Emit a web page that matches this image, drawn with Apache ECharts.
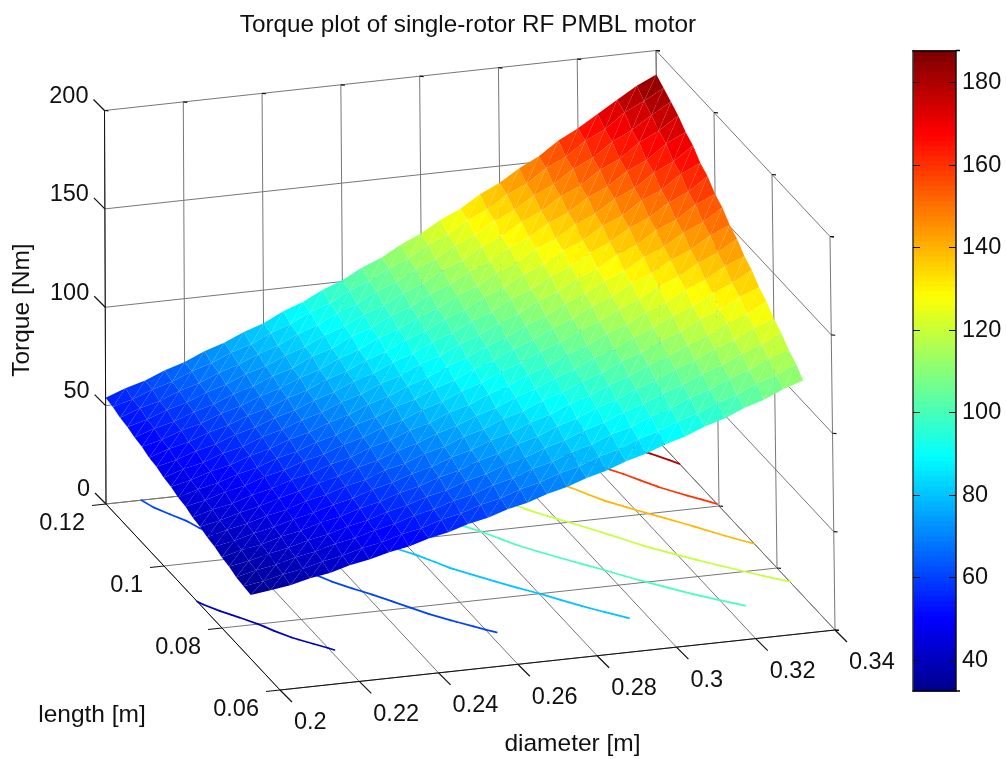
<!DOCTYPE html>
<html><head><meta charset="utf-8">
<script src="https://cdn.jsdelivr.net/npm/echarts@6/dist/echarts.min.js"></script>
<style>html,body{margin:0;padding:0;background:#fff}#c{width:1006px;height:759px}</style>
</head><body><div id="c"></div>
<script>
const diameters=[0.2,0.205,0.21,0.215,0.22,0.225,0.23,0.235,0.24,0.245,0.25,0.255,0.26,0.265,0.27,0.275,0.28,0.285,0.29,0.295,0.3,0.305,0.31,0.315,0.32,0.325,0.33,0.335,0.34];
const lengths=[0.07,0.0725,0.075,0.0775,0.08,0.0825,0.085,0.0875,0.09,0.0925,0.095,0.0975,0.1,0.1025,0.105,0.1075,0.11,0.1125,0.115,0.1175,0.12];
const torque=[
[32.5,33.9,35.3,37.8,39.4,42.2,44.0,46.6,48.5,51.4,53.5,56.6,58.7,62.0,64.2,67.5,70.0,73.5,76.1,79.8,82.5,86.3,89.1,93.1,96.1,100.3,103.4,107.8,111.0],
[33.0,34.5,37.0,38.7,41.3,43.2,45.9,47.8,50.7,52.7,55.9,58.0,61.4,63.6,67.1,69.4,73.1,75.5,79.4,82.0,86.1,88.8,93.0,95.8,100.2,103.2,107.9,110.9,115.8],
[33.7,36.2,37.8,40.6,42.4,45.2,47.1,49.9,52.0,55.2,57.3,60.6,62.8,66.4,68.7,72.5,74.9,78.8,81.5,85.6,88.3,92.5,95.5,99.9,102.9,107.6,110.7,115.6,118.9],
[35.2,36.9,39.5,41.4,44.2,46.2,49.0,51.1,54.2,56.5,59.8,62.0,65.5,68.0,71.6,74.2,78.0,80.8,84.8,87.7,91.9,94.9,99.3,102.5,107.0,110.4,115.1,118.7,123.6],
[35.9,38.6,40.3,43.3,45.1,48.2,50.1,53.3,55.4,58.9,61.1,64.7,67.0,70.9,73.3,77.3,79.9,84.1,86.9,91.3,94.2,98.7,101.8,106.5,109.8,114.8,118.1,123.3,126.8],
[37.5,39.3,42.1,44.1,47.0,49.2,52.2,54.4,57.7,60.2,63.6,66.1,69.8,72.4,76.2,79.0,83.1,86.0,90.3,93.4,97.8,101.1,105.7,109.1,113.9,117.5,122.6,126.3,131.6],
[38.2,41.0,42.9,45.9,47.9,51.2,53.3,56.6,58.8,62.6,64.9,68.8,71.2,75.3,77.9,82.1,85.0,89.3,92.4,96.9,100.1,104.8,108.2,113.1,116.6,121.9,125.5,131.0,134.8],
[39.7,41.7,44.6,46.8,49.8,52.2,55.4,57.7,61.2,63.7,67.4,70.1,74.0,76.8,80.8,83.8,88.1,91.2,95.7,99.1,103.7,107.2,112.0,115.7,120.9,124.6,130.0,134.0,139.6],
[40.4,43.4,45.4,48.6,50.8,54.2,56.4,59.9,62.3,66.2,68.8,72.8,75.4,79.7,82.4,86.9,90.0,94.6,97.8,102.6,106.0,111.0,114.5,119.8,123.5,129.0,132.9,138.7,142.7],
[42.0,44.1,47.2,49.4,52.8,55.2,58.6,61.0,64.7,67.4,71.3,74.1,78.2,81.2,85.5,88.6,93.2,96.5,101.3,104.8,109.7,113.3,118.5,122.3,127.8,131.7,137.4,141.7,147.6],
[42.7,45.8,47.9,51.3,53.6,57.2,59.6,63.2,65.8,69.9,72.6,76.8,79.6,84.1,87.0,91.7,95.0,99.8,103.2,108.3,111.9,117.2,120.9,126.5,130.4,136.2,140.3,146.4,150.7],
[44.2,46.5,49.8,52.0,55.6,58.1,61.8,64.3,68.1,71.0,75.2,78.1,82.4,85.6,90.1,93.4,98.2,101.6,106.7,110.3,115.7,119.4,124.9,128.9,134.7,138.8,144.9,149.2,155.6],
[45.0,48.2,50.4,54.0,56.4,60.2,62.8,66.6,69.3,73.6,76.4,80.8,83.8,88.5,91.6,96.5,99.9,105.1,108.7,114.1,117.7,123.3,127.2,133.1,137.2,143.4,147.6,154.2,158.6],
[46.5,48.9,52.3,54.7,58.5,61.1,64.9,67.6,71.6,74.7,79.1,82.1,86.7,89.9,94.8,98.1,103.3,106.8,112.3,115.9,121.7,125.4,131.4,135.5,141.7,145.9,152.4,156.9,163.6],
[47.2,50.6,53.0,56.7,59.3,63.2,65.9,69.9,72.7,77.3,80.2,84.9,88.0,93.0,96.1,101.4,104.8,110.4,114.0,119.8,123.6,129.6,133.6,139.9,144.0,150.6,154.9,161.9,166.4],
[48.8,51.3,54.9,57.4,61.3,64.1,68.1,70.9,75.1,78.3,82.9,86.1,91.0,94.3,99.4,102.9,108.4,112.0,117.8,121.6,127.6,131.6,137.9,142.1,148.6,153.0,159.8,164.5,171.4],
[49.5,53.0,55.5,59.3,62.1,66.2,69.1,73.2,76.2,81.0,84.0,89.0,92.3,97.4,100.8,106.2,110.0,115.6,119.5,125.4,129.6,135.7,139.9,146.5,150.8,157.7,162.3,169.4,174.3],
[51.0,53.7,57.4,60.1,64.1,67.1,71.3,74.2,78.6,81.9,86.7,90.1,95.2,98.7,103.9,107.7,113.4,117.2,123.2,127.3,133.5,137.7,144.2,148.7,155.5,160.1,167.2,172.1,178.6],
[51.7,55.4,58.1,62.0,65.0,69.2,72.2,76.5,79.7,84.5,87.9,93.0,96.5,101.8,105.4,111.0,115.0,120.9,125.0,131.1,135.5,141.8,146.3,153.1,157.7,164.8,169.7,176.0,181.8],
[53.3,56.1,59.9,62.8,67.0,70.1,74.4,77.5,82.1,85.6,90.6,94.1,99.4,103.1,108.6,112.5,118.4,122.5,128.7,133.0,139.4,143.8,150.6,155.4,162.4,167.2,174.6,179.4,184.9],
[54.0,57.8,60.6,64.7,67.8,72.2,75.4,79.8,83.2,88.2,91.8,96.9,100.7,106.1,110.0,115.7,120.0,126.0,130.5,136.7,141.5,147.8,152.8,159.7,164.8,171.0,177.1,183.2,187.8]
];
const contourLevels=[40,60,80,100,120,140,160,180];
const diameterTicks=[0.2,0.22,0.24,0.26,0.28,0.3,0.32,0.34];
const diameterLabels=['0.2','0.22','0.24','0.26','0.28','0.3','0.32','0.34'];
const lengthTicks=[0.06,0.08,0.1,0.12];
const lengthLabels=['0.06','0.08','0.1','0.12'];
const torqueTicks=[0,50,100,150,200];
const colorbarTicks=[40,60,80,100,120,140,160,180];
const colorMin=32.5,colorMax=187.8,LEVELS=128;

/* orthographic view of the 3-D box */
const D0=0.2,DR=0.14,L0=0.06,LR=0.06,ZR=200;
function project(d,l,z){
  const u=(d-D0)/DR,v=(l-L0)/LR,t=z/ZR;
  return [280+555*u-174*v-t*(1.5+3.5*u), 690-60*u-186*v-393.5*t];
}
function clamp01(x){return Math.max(0,Math.min(1,x));}
function jetAt(f){
  const t=(clamp01(f)*63+1)/64;
  const r=clamp01(Math.min(4*t-1.5,-4*t+4.5)),g=clamp01(Math.min(4*t-0.5,-4*t+3.5)),b=clamp01(Math.min(4*t+0.5,-4*t+2.5));
  return 'rgb('+Math.round(r*255)+','+Math.round(g*255)+','+Math.round(b*255)+')';
}
function jet(v){return jetAt((v-colorMin)/(colorMax-colorMin));}
const FAMILY='"Liberation Sans", Arial, sans-serif';
const DMAX=0.34,LMAX=0.12,GRID='#777',DARK='#111',FONT='23.5px '+FAMILY;
/* frame segments: d1,l1,z1,d2,l2,z2,colour */
const frame=[];
diameterTicks.forEach(d=>{
  frame.push([d,L0,0,d,LMAX,0,GRID]);
  frame.push([d,LMAX,0,d,LMAX,ZR,GRID]);
});
lengthTicks.forEach(l=>{
  frame.push([D0,l,0,DMAX,l,0,GRID]);
  frame.push([DMAX,l,0,DMAX,l,ZR,GRID]);
});
torqueTicks.forEach(z=>{
  frame.push([D0,LMAX,z,DMAX,LMAX,z,GRID]);
  frame.push([DMAX,LMAX,z,DMAX,L0,z,GRID]);
});
frame.push([D0,LMAX,0,D0,LMAX,ZR,DARK]);
frame.push([D0,L0,0,D0,LMAX,0,DARK]);
frame.push([D0,L0,0,DMAX,L0,0,DARK]);

const cells=[];
for(let i=0;i<lengths.length-1;i++)for(let k=0;k<diameters.length-1;k++)cells.push([i,k]);

function crossings(lv,i,k){
  const corners=[[k,i],[k+1,i],[k+1,i+1],[k,i+1]],pts=[];
  for(let e=0;e<4;e++){
    const a=corners[e],b=corners[(e+1)%4];
    const va=torque[a[1]][a[0]],vb=torque[b[1]][b[0]];
    if((va<lv)!==(vb<lv)){
      const f=(lv-va)/(vb-va);
      pts.push([diameters[a[0]]+f*(diameters[b[0]]-diameters[a[0]]),lengths[a[1]]+f*(lengths[b[1]]-lengths[a[1]])]);
    }
  }
  return pts;
}
const chart=echarts.init(document.getElementById('c'),null,{renderer:'canvas'});
const ticks=[];
diameterTicks.forEach(d=>ticks.push({p:[d,L0,0],dx:12,dy:12}));
lengthTicks.forEach(l=>ticks.push({p:[D0,l,0],dx:-14,dy:1.5}));
torqueTicks.forEach(z=>ticks.push({p:[D0,LMAX,z],dx:-11,dy:-11}));
diameterTicks.forEach(d=>{ticks.push({p:[d,LMAX,ZR],dx:4,dy:0.4});});
lengthTicks.forEach(l=>{ticks.push({p:[DMAX,l,ZR],dx:4,dy:0.4});ticks.push({p:[DMAX,l,0],dx:4,dy:0.4});});
torqueTicks.forEach(z=>{ticks.push({p:[DMAX,L0,z],dx:4,dy:0.4});});

const labels=[];
diameterTicks.forEach((d,n)=>{const p=project(d,L0,0);labels.push({t:diameterLabels[n],x:p[0]+14,y:p[1]+33,a:'left'});});
lengthTicks.forEach((l,n)=>{const p=project(D0,l,0);labels.push({t:lengthLabels[n],x:p[0]-21,y:p[1]+19.5,a:'right'});});
torqueTicks.forEach(z=>{const p=project(D0,LMAX,z);labels.push({t:String(z),x:p[0]-16,y:p[1]-14,a:'right'});});

chart.setOption({
  animation:false,
  backgroundColor:'#fff',
  title:{text:'Torque plot of single-rotor RF PMBL motor',left:463,top:8,textAlign:'center',
    textStyle:{fontFamily:FAMILY,fontWeight:'normal',fontSize:24.3,color:'#111'}},
  grid:[
    {left:0,top:0,width:1006,height:759,show:false},
    {left:913,top:50.5,width:43,height:640.5,show:false}
  ],
  xAxis:[
    {type:'value',gridIndex:0,min:0,max:1006,show:false},
    {type:'value',gridIndex:1,min:0,max:1,position:'bottom',z:10,axisLine:{show:true,onZero:false,lineStyle:{color:'#000',width:1.5}},axisTick:{show:false},axisLabel:{show:false},splitLine:{show:false}},
    {type:'value',gridIndex:1,min:0,max:1,position:'top',z:10,axisLine:{show:true,onZero:false,lineStyle:{color:'#000',width:1.5}},axisTick:{show:false},axisLabel:{show:false},splitLine:{show:false}}
  ],
  yAxis:[
    {type:'value',gridIndex:0,min:0,max:759,inverse:true,show:false},
    {type:'value',gridIndex:1,min:colorMin,max:colorMax,position:'right',z:10,
      axisLine:{show:true,onZero:false,lineStyle:{color:'#111',width:1.5}},
      axisTick:{show:true,inside:true,length:7,customValues:colorbarTicks,lineStyle:{color:'#111',width:1}},
      axisLabel:{show:true,customValues:colorbarTicks,margin:6,fontSize:23.5,color:'#111',fontFamily:FAMILY},
      splitLine:{show:false}},
    {type:'value',gridIndex:1,min:colorMin,max:colorMax,position:'left',z:10,
      axisLine:{show:true,onZero:false,lineStyle:{color:'#333',width:1.5}},
      axisTick:{show:true,inside:true,length:7,customValues:colorbarTicks,lineStyle:{color:'#111',width:1}},
      axisLabel:{show:false},splitLine:{show:false}}
  ],
  series:[
    {type:'custom',name:'frame',xAxisIndex:0,yAxisIndex:0,silent:true,z:1,
      data:frame.map((f,i)=>[i,0]),
      renderItem(params,api){
        const f=frame[params.dataIndex];
        const a=api.coord(project(f[0],f[1],f[2])),b=api.coord(project(f[3],f[4],f[5]));
        return {type:'line',shape:{x1:a[0],y1:a[1],x2:b[0],y2:b[1]},style:{stroke:f[6],lineWidth:1,fill:null}};
      }},
    {type:'custom',name:'ticks',xAxisIndex:0,yAxisIndex:0,silent:true,z:2,
      data:ticks.map((f,i)=>[i,0]),
      renderItem(params,api){
        const f=ticks[params.dataIndex];
        const a=api.coord(project(f.p[0],f.p[1],f.p[2]));
        return {type:'line',shape:{x1:a[0],y1:a[1],x2:a[0]+f.dx,y2:a[1]+f.dy},style:{stroke:'#111',lineWidth:1.2,fill:null}};
      }},
    {type:'custom',name:'contours',xAxisIndex:0,yAxisIndex:0,silent:true,z:3,
      data:contourLevels.map((v,i)=>[i,v]),
      renderItem(params,api){
        const lv=contourLevels[params.dataIndex],kids=[];
        cells.forEach(c=>{
          const pts=crossings(lv,c[0],c[1]);
          if(pts.length===2){
            const a=api.coord(project(pts[0][0],pts[0][1],0)),b=api.coord(project(pts[1][0],pts[1][1],0));
            kids.push({type:'line',shape:{x1:a[0],y1:a[1],x2:b[0],y2:b[1]},style:{stroke:jet(lv),lineWidth:1.7,lineCap:'round',fill:null}});
          }
        });
        return {type:'group',children:kids};
      }},
    {type:'custom',name:'surface',xAxisIndex:0,yAxisIndex:0,silent:true,z:4,
      data:cells.map(c=>[c[1],c[0]]),
      renderItem(params,api){
        const c=cells[params.dataIndex],i=c[0],k=c[1];
        const P=(ii,kk)=>api.coord(project(diameters[kk],lengths[ii],torque[ii][kk]));
        const A=P(i,k),B=P(i,k+1),C=P(i+1,k+1),E=P(i+1,k);
        const a=torque[i][k],b=torque[i][k+1],e=torque[i+1][k],g=torque[i+1][k+1];
        return {type:'group',children:[
          {type:'polygon',shape:{points:[A,B,C]},style:{fill:jet((a+b+g)/3),stroke:null}},
          {type:'polygon',shape:{points:[A,C,E]},style:{fill:jet((a+e+g)/3),stroke:null}}
        ]};
      }},
    {type:'custom',name:'labels',xAxisIndex:0,yAxisIndex:0,silent:true,z:5,
      data:labels.map((l,i)=>[i,0]),
      renderItem(params,api){
        const l=labels[params.dataIndex],a=api.coord([l.x,l.y]);
        return {type:'text',x:a[0],y:a[1],style:{text:l.t,font:FONT,fill:'#111',align:l.a,verticalAlign:'middle'}};
      }},
    {type:'custom',name:'axisTitles',xAxisIndex:0,yAxisIndex:0,silent:true,z:5,
      data:[[0,0],[1,0],[2,0]],
      renderItem(params,api){
        const T=[
          {t:'Torque [Nm]',p:project(D0,LMAX,95),ox:-83,oy:-7,r:Math.PI/2},
          {t:'length [m]',p:project(D0,0.07,0),ox:-159,oy:56,r:0},
          {t:'diameter [m]',p:project(0.27,L0,0),ox:15,oy:84,r:0}
        ][params.dataIndex];
        const a=api.coord([T.p[0]+T.ox,T.p[1]+T.oy]);
        return {type:'text',x:a[0],y:a[1],rotation:T.r,style:{text:T.t,font:'24.5px '+FAMILY,fill:'#111',align:'center',verticalAlign:'middle'}};
      }},
    {type:'custom',name:'colorbar',xAxisIndex:1,yAxisIndex:1,silent:true,z:2,
      data:Array.from({length:LEVELS},(_,i)=>[0,i]),
      renderItem(params,api){
        const i=params.dataIndex,step=(colorMax-colorMin)/LEVELS;
        const a=api.coord([0,colorMin+i*step]),b=api.coord([1,colorMin+(i+1)*step]);
        const kids=[{type:'rect',shape:{x:a[0],y:b[1],width:b[0]-a[0],height:a[1]-b[1]+0.5},style:{fill:jetAt(i/(LEVELS-1)),stroke:null}}];
        if(i===0)kids.push({type:'line',shape:{x1:b[0],y1:a[1],x2:b[0]+4,y2:a[1]},style:{stroke:'#000',lineWidth:1.5,fill:null}});
        if(i===LEVELS-1)kids.push({type:'line',shape:{x1:b[0],y1:b[1],x2:b[0]+4,y2:b[1]},style:{stroke:'#000',lineWidth:1.5,fill:null}});
        return {type:'group',children:kids};
      }}
  ]
});
</script></body></html>
